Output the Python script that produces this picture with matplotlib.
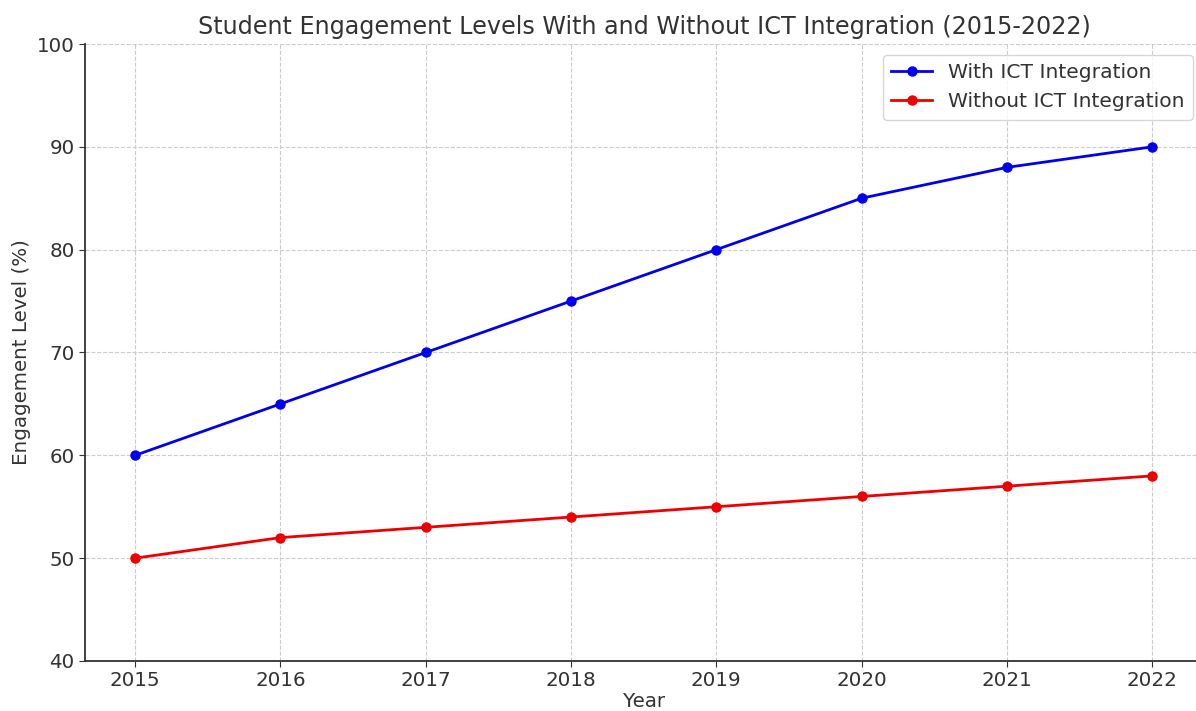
import matplotlib
matplotlib.use("Agg")
import matplotlib.pyplot as plt

years = [2015, 2016, 2017, 2018, 2019, 2020, 2021, 2022]
with_ict = [60, 65, 70, 75, 80, 85, 88, 90]
without_ict = [50, 52, 53, 54, 55, 56, 57, 58]

txt = '#333333'
plt.rcParams['font.family'] = ['DejaVu Sans']
fig = plt.figure(figsize=(11.96, 7.11), dpi=100)
ax = fig.add_axes([85/1196, 50/711, (1203-85)/1196, (661-44)/711])
ax.plot(years, with_ict, color='#0000ee', marker='o', lw=2, ms=6.5, label='With ICT Integration')
ax.plot(years, without_ict, color='#ee0000', marker='o', lw=2, ms=6.5, label='Without ICT Integration')
ax.set_xlim(2015-0.345, 2022+0.35)
ax.set_ylim(40, 100)
ax.set_xticks(years)
ax.set_yticks(range(40, 101, 10))
ax.grid(True, linestyle='--', color='#cccccc', lw=0.8)
ax.set_axisbelow(True)
for s in ['top', 'right']:
    ax.spines[s].set_visible(False)
for s in ['left', 'bottom']:
    ax.spines[s].set_color(txt)
    ax.spines[s].set_linewidth(1.3)
ax.tick_params(labelsize=14.3, colors=txt, length=4)
ax.set_xlabel('Year', fontsize=14.3, color=txt, labelpad=1)
ax.set_ylabel('Engagement Level (%)', fontsize=14.3, color=txt, labelpad=4)
ax.set_title('Student Engagement Levels With and Without ICT Integration (2015-2022)', fontsize=17.2, color=txt, pad=7)
leg = ax.legend(loc='upper right', bbox_to_anchor=(1203/1196, 1-45/711), bbox_transform=fig.transFigure,
                fontsize=14.6, frameon=True, labelcolor=txt)
leg.get_frame().set_edgecolor('#cccccc')
fig.savefig('out.png', dpi=100)
